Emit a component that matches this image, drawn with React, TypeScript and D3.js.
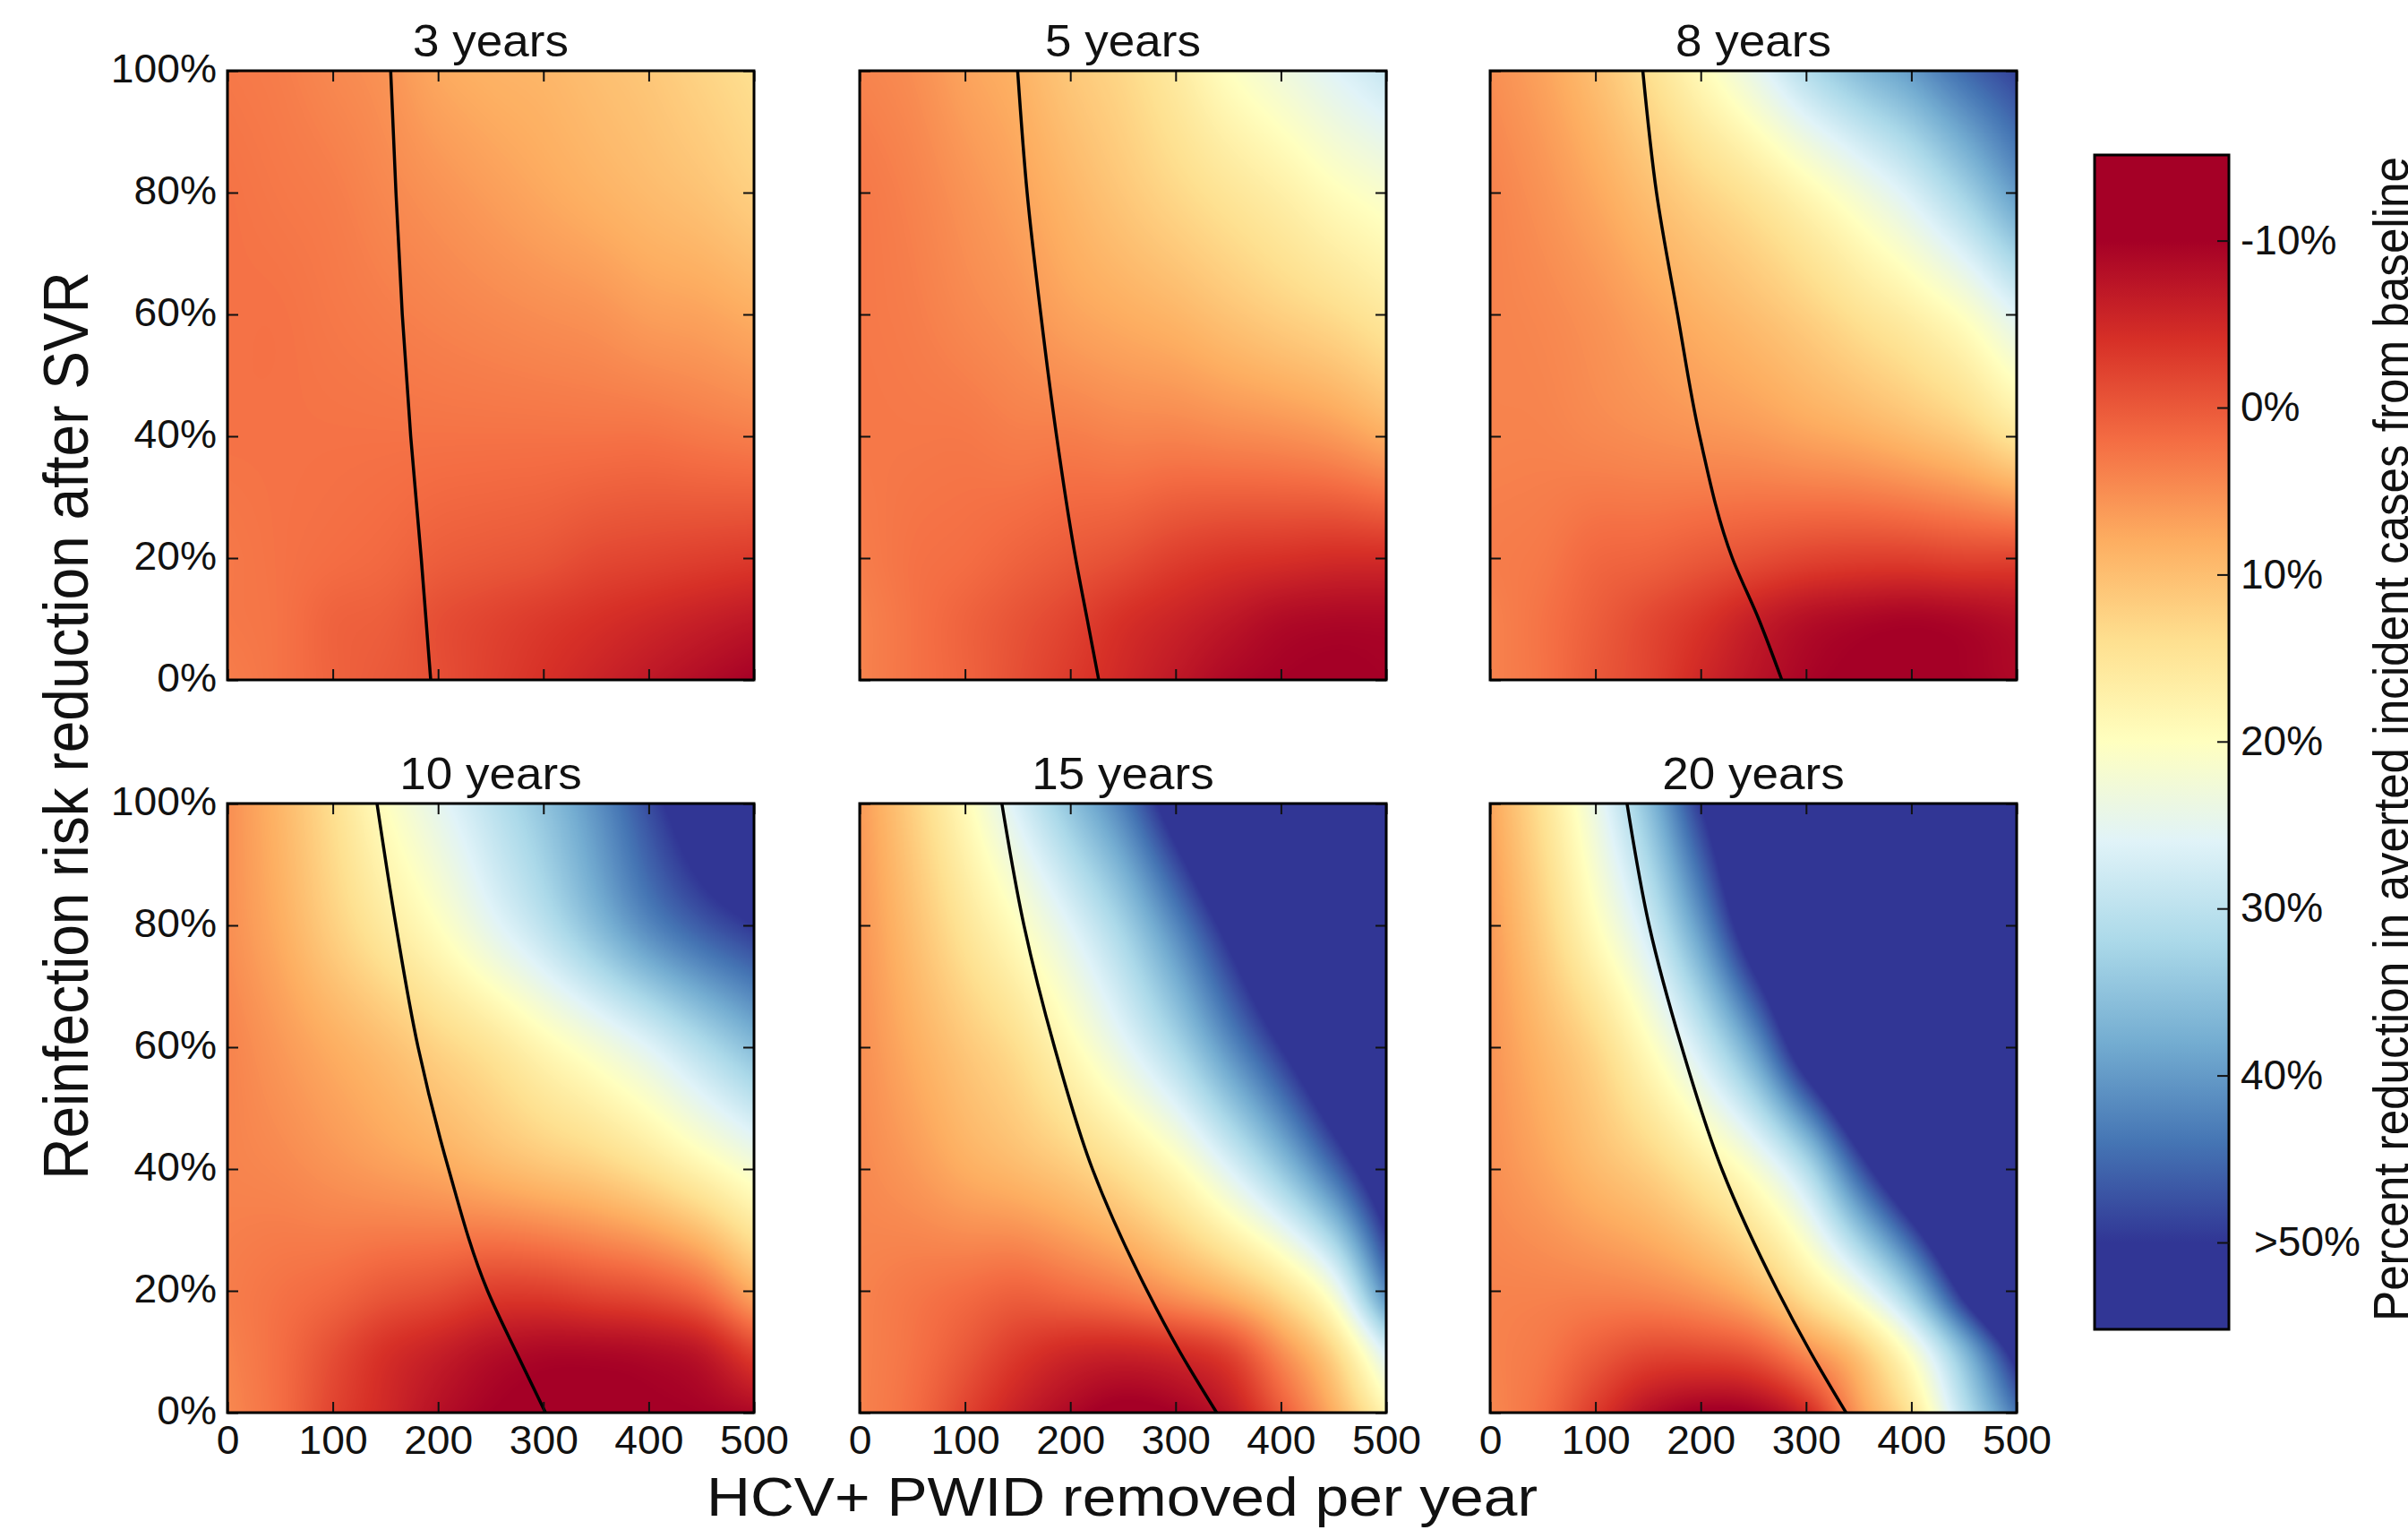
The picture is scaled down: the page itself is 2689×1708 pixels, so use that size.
import { useEffect, useRef } from "react";
import * as d3 from "d3";

const removedPerYear = [0, 50, 100, 150, 200, 250, 300, 350, 400, 450, 500];
const riskRows = [100, 80, 60, 40, 20, 10, 0];
const xTicks = [0, 100, 200, 300, 400, 500];
const yTicks = [0, 20, 40, 60, 80, 100];

// percent reduction, one row per riskRows entry, one column per removedPerYear entry
const years3 = [
  [3, 3.5, 4.5, 5.5, 7.5, 8.5, 9, 10, 11, 12.5, 14],
  [2.5, 3, 3.5, 4.5, 5.5, 6.5, 7.5, 8.5, 9.5, 10.5, 12],
  [2.5, 2.5, 3, 3.5, 4, 4.5, 5, 5.5, 6.5, 7, 8],
  [2.5, 2.5, 2.5, 2.5, 2.5, 2.5, 2.5, 2.5, 2.5, 3, 3.5],
  [3, 2.5, 2, 1.5, 0.5, 0, -0.5, -1.5, -2, -2.5, -3],
  [3, 2.5, 1, 0.5, -1, -2, -3, -4, -5, -6, -7],
  [3.5, 2.5, 1, 0, -1, -2.5, -4, -5.5, -7, -8.5, -10],
];
const years5 = [
  [4, 5, 7, 8.5, 11, 13, 16, 20, 23, 26, 29],
  [3, 4, 5.5, 7, 9, 11, 13, 15, 17, 19.5, 21.5],
  [3, 3.5, 4.5, 5.5, 7, 8, 9, 10.5, 12, 13.5, 15.5],
  [3, 3, 3, 3.5, 3.5, 4, 4, 4.5, 5, 6, 8],
  [3.5, 2.5, 2, 1, 0, -1, -2.5, -3.5, -4, -4.5, -4.5],
  [4, 2.5, 1, -0.5, -2, -4, -5.5, -7, -8.5, -9, -9],
  [4, 2.5, 1, -1, -3, -5, -7, -9, -10, -10.5, -10],
];
const years8 = [
  [5, 7, 10, 14, 19, 24.5, 31, 36, 40, 45, 49],
  [4, 5.5, 7.5, 10, 12.5, 15, 18.5, 22.5, 27, 33, 40],
  [4, 4.5, 5.5, 7, 8.5, 10, 12, 14.5, 17, 20.5, 26],
  [4, 4, 4.5, 5, 5.5, 6, 7, 8, 9.5, 11.5, 15],
  [3.5, 3, 1.5, 1, 0, -1, -2, -2.5, -2.5, -2, -2],
  [4, 2.5, 0.5, -1.5, -3.5, -6, -8, -9, -9.5, -9, -8],
  [4, 2.5, 0, -2, -5, -7.5, -9.5, -10.5, -10.5, -10, -9],
];
const years10 = [
  [5, 9, 14, 20, 25, 30, 35, 41, 48, 55, 62],
  [5, 8, 12, 16, 20, 25, 30, 36, 42, 46.5, 50],
  [4, 6, 8, 10, 12.5, 15, 18.5, 22, 26, 31, 36],
  [4, 4.5, 5.5, 6.5, 7.5, 9, 10.5, 12, 14.5, 18, 22],
  [3.5, 2.5, 1.5, 0, -1, -2.5, -2.5, -1.5, -0.5, 2, 8],
  [4, 2, -1, -4, -6, -8, -9, -9, -8.5, -7, -2],
  [4.5, 2, -2, -5, -8, -10, -11, -11, -10.5, -10, -9],
];
const years15 = [
  [6, 12, 19, 27, 35, 43, 54, 65, 75, 85, 95],
  [5.5, 10, 15, 20, 26, 33, 42, 52, 62, 72, 82],
  [5, 8, 11, 14, 19, 25, 32, 41, 50, 60, 70],
  [4.5, 6, 8, 9.5, 11.5, 14.5, 19, 26, 34.5, 45, 57],
  [4, 3, 2, 1, 2, 3.5, 6, 9, 14, 23, 42],
  [4, 2.5, 0, -3, -5, -5.5, -4.5, -2, 5, 13, 27],
  [4, 2, -2, -6, -9, -11, -10, -7, 0, 8, 18],
];
const years20 = [
  [7, 14.5, 24, 35.5, 50, 62, 72, 82, 92, 102, 112],
  [6, 12, 19.5, 28, 40.5, 55, 65, 75, 85, 95, 105],
  [5.5, 9, 13, 19.5, 28, 39.5, 55, 67, 77, 87, 97],
  [5, 7, 9.5, 12, 16, 21.5, 31, 46.5, 60, 72, 82],
  [4, 4, 4, 4.5, 6, 9, 15, 23, 35, 52, 68],
  [4, 3, 0.5, -1.5, -1.5, 0, 5, 11, 21.5, 36.5, 53],
  [4.5, 2, -3, -8, -10.5, -10, -5, 6, 15, 30, 44],
];

// black line position (removed per year) at each riskRows entry
const line3 = [155, 160, 166, 174, 184, 188.5, 193];
const line5 = [150, 159, 172, 187, 205, 216, 227];
const line8 = [145, 158, 178, 199, 230, 255, 277];
const line10 = [142, 160, 181, 210, 247, 274, 302];
const line15 = [135, 156, 185, 221, 273, 304, 339];
const line20 = [130, 151, 182, 220, 273, 304, 338];

const panelTitles = ["3 years", "5 years", "8 years", "10 years", "15 years", "20 years"];
const panelValues = [years3, years5, years8, years10, years15, years20];
const panelLines = [line3, line5, line8, line10, line15, line20];

const colorStops = [-10, -4, 2, 8, 14, 20, 26, 32, 38, 44, 50];
const colorRange = ["#a50026", "#d73027", "#f46d43", "#fdae61", "#fee090", "#ffffbf", "#e0f3f8", "#abd9e9", "#74add1", "#4575b4", "#313695"];
const colorbarTicks = [-10, 0, 10, 20, 30, 40, 50];

const FONT = "'Liberation Sans', Arial, sans-serif";

// hermite through the read values, the same smoothing imshow gives the original
function smooth(xs: number[], ys: number[], x: number) {
  const n = xs.length;
  let i = d3.bisectRight(xs, x) - 1;
  i = Math.max(0, Math.min(n - 2, i));
  const h = xs[i + 1] - xs[i];
  const t = (x - xs[i]) / h;
  const slope = (k: number) => {
    const a = Math.max(0, k - 1);
    const b = Math.min(n - 1, k + 1);
    return (ys[b] - ys[a]) / (xs[b] - xs[a]);
  };
  const t2 = t * t;
  const t3 = t2 * t;
  return (2 * t3 - 3 * t2 + 1) * ys[i] + (t3 - 2 * t2 + t) * h * slope(i) + (-2 * t3 + 3 * t2) * ys[i + 1] + (t3 - t2) * h * slope(i + 1);
}

function heatImage(values: number[][], x: d3.ScaleLinear<number, number>, y: d3.ScaleLinear<number, number>, color: d3.ScaleLinear<string, string>) {
  const w = Math.round(x.range()[1] - x.range()[0]);
  const h = Math.round(y.range()[0] - y.range()[1]);
  const canvas = document.createElement("canvas");
  canvas.width = w;
  canvas.height = h;
  const ctx = canvas.getContext("2d")!;
  const img = ctx.createImageData(w, h);

  const lut = d3.range(0, 1401).map((k) => d3.rgb(color(-20 + k * 0.1)));
  const rowsUp = [...riskRows].reverse();
  const columns = d3.range(w).map((px) => {
    const xv = x.invert(x.range()[0] + px + 0.5);
    return [...values].reverse().map((row) => smooth(removedPerYear, row, xv));
  });
  for (let py = 0; py < h; py++) {
    const yv = y.invert(y.range()[1] + py + 0.5);
    for (let px = 0; px < w; px++) {
      const v = smooth(rowsUp, columns[px], yv);
      const c = lut[Math.max(0, Math.min(1400, Math.round((v + 20) * 10)))];
      const o = (py * w + px) * 4;
      img.data[o] = c.r;
      img.data[o + 1] = c.g;
      img.data[o + 2] = c.b;
      img.data[o + 3] = 255;
    }
  }
  ctx.putImageData(img, 0, 0);
  return canvas.toDataURL("image/png");
}

export default function App() {
  const svgRef = useRef<SVGSVGElement>(null);

  useEffect(() => {
    document.body.style.margin = "0";
    const svg = d3.select(svgRef.current);
    svg.selectAll("*").remove();

    const color = d3.scaleLinear<string>().domain(colorStops).range(colorRange).clamp(true);
    const lefts = [254, 960, 1664];
    const tops = [79, 897];
    const panelW = 588;
    const panelH = 680;

    panelTitles.forEach((title, i) => {
      const col = i % 3;
      const row = Math.floor(i / 3);
      const x = d3.scaleLinear().domain([0, 500]).range([lefts[col], lefts[col] + panelW]);
      const y = d3.scaleLinear().domain([0, 100]).range([tops[row] + panelH, tops[row]]);

      svg.append("image")
        .attr("x", lefts[col])
        .attr("y", tops[row])
        .attr("width", panelW)
        .attr("height", panelH)
        .attr("preserveAspectRatio", "none")
        .attr("href", heatImage(panelValues[i], x, y, color));

      const line = d3.line<number>()
        .x((d) => x(d))
        .y((_, k) => y(riskRows[k]))
        .curve(d3.curveMonotoneY);
      svg.append("path")
        .attr("d", line(panelLines[i]))
        .attr("fill", "none")
        .attr("stroke", "#000")
        .attr("stroke-width", 3.5);

      const tickStyle = (g: any) => {
        g.select(".domain").remove();
        g.selectAll("line").attr("stroke", "#111").attr("stroke-width", 2);
        g.selectAll("text")
          .attr("font-family", FONT)
          .attr("font-size", 44)
          .attr("fill", "#111")
          .attr("transform", "scale(1.05,1)");
      };
      const pct = (d: any) => `${d}%`;

      const left = d3.axisLeft(y).tickValues(yTicks).tickSizeInner(-12).tickSizeOuter(0).tickPadding(12)
        .tickFormat(col === 0 ? pct : () => "");
      const bottom = d3.axisBottom(x).tickValues(xTicks).tickSizeInner(-12).tickSizeOuter(0).tickPadding(15)
        .tickFormat(row === 1 ? (d: any) => `${d}` : () => "");
      const right = d3.axisRight(y).tickValues(yTicks).tickSizeInner(-12).tickSizeOuter(0).tickFormat(() => "");
      const top = d3.axisTop(x).tickValues(xTicks).tickSizeInner(-12).tickSizeOuter(0).tickFormat(() => "");

      svg.append("g").attr("transform", `translate(${lefts[col]},0)`).call(left).call(tickStyle)
        .selectAll("text").attr("dy", "0.28em").attr("x", -12 / 1.05);
      svg.append("g").attr("transform", `translate(0,${tops[row] + panelH})`).call(bottom).call(tickStyle);
      svg.append("g").attr("transform", `translate(${lefts[col] + panelW},0)`).call(right).call(tickStyle);
      svg.append("g").attr("transform", `translate(0,${tops[row]})`).call(top).call(tickStyle);

      svg.append("rect")
        .attr("x", lefts[col])
        .attr("y", tops[row])
        .attr("width", panelW)
        .attr("height", panelH)
        .attr("fill", "none")
        .attr("stroke", "#000")
        .attr("stroke-width", 3);

      svg.append("text")
        .attr("transform", `translate(${lefts[col] + panelW / 2},${tops[row] - 16}) scale(1.06,1)`)
        .attr("text-anchor", "middle")
        .attr("font-family", FONT)
        .attr("font-size", 50)
        .attr("fill", "#111")
        .text(title);
    });

    // colorbar
    const barX = 2339;
    const barW = 150;
    const cy = d3.scaleLinear().domain([-10, 50]).range([268.6, 1387]);
    const [barTop, barBottom] = [173, 1484];
    const defs = svg.append("defs");
    const grad = defs.append("linearGradient")
      .attr("id", "barGradient")
      .attr("gradientUnits", "userSpaceOnUse")
      .attr("x1", 0).attr("x2", 0).attr("y1", barTop).attr("y2", barBottom);
    colorStops.forEach((v, k) => {
      grad.append("stop")
        .attr("offset", (cy(v) - barTop) / (barBottom - barTop))
        .attr("stop-color", colorRange[k]);
    });
    svg.append("rect")
      .attr("x", barX).attr("y", barTop).attr("width", barW).attr("height", barBottom - barTop)
      .attr("fill", "url(#barGradient)")
      .attr("stroke", "#000")
      .attr("stroke-width", 3);

    const barAxis = d3.axisRight(cy).tickValues(colorbarTicks).tickSizeInner(-13).tickSizeOuter(0).tickPadding(13)
      .tickFormat((d: any) => (d === 50 ? ">50%" : `${d}%`));
    const barG = svg.append("g").attr("transform", `translate(${barX + barW},0)`).call(barAxis);
    barG.select(".domain").remove();
    barG.selectAll("line").attr("stroke", "#111").attr("stroke-width", 2);
    barG.selectAll("text")
      .attr("font-family", FONT)
      .attr("font-size", 46)
      .attr("fill", "#111")
      .attr("dx", (d: any) => (d === 50 ? 15 : 0));

    // axis titles
    svg.append("text")
      .attr("x", 1253)
      .attr("y", 1692)
      .attr("text-anchor", "middle")
      .attr("font-family", FONT)
      .attr("font-size", 61)
      .attr("fill", "#111")
      .attr("textLength", 928)
      .attr("lengthAdjust", "spacingAndGlyphs")
      .text("HCV+ PWID removed per year");

    svg.append("text")
      .attr("transform", `translate(98,810) scale(1.1,1) rotate(-90)`)
      .attr("text-anchor", "middle")
      .attr("font-family", FONT)
      .attr("font-size", 64)
      .attr("fill", "#111")
      .text("Reinfection risk reduction after SVR");

    // the original figure crops this title at the right edge
    svg.append("text")
      .attr("transform", `translate(2689,825) scale(1.1,1) rotate(-90)`)
      .attr("text-anchor", "middle")
      .attr("font-family", FONT)
      .attr("font-size", 50)
      .attr("fill", "#111")
      .attr("textLength", 1300)
      .attr("lengthAdjust", "spacingAndGlyphs")
      .text("Percent reduction in averted incident cases from baseline");
  }, []);

  return <svg ref={svgRef} width={2689} height={1708} style={{ display: "block", background: "#fff" }} />;
}
